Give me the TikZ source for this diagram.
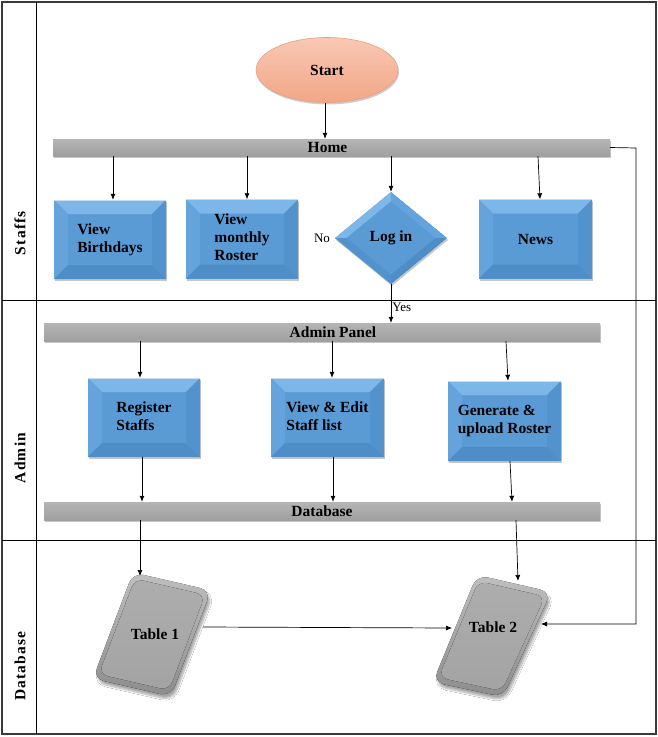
\documentclass[tikz,border=0pt]{standalone}
\usepackage{fontspec}
\setmainfont{Liberation Serif}
\usetikzlibrary{shapes.geometric,shadows,shadows.blur,calc,arrows.meta}
\definecolor{boxblue}{HTML}{5B9BD5}
\definecolor{bevtop}{HTML}{7DB6E8}
\definecolor{bevleft}{HTML}{64A3DB}
\definecolor{bevright}{HTML}{5393CD}
\definecolor{bevbot}{HTML}{4F8DC6}
\definecolor{framegray}{HTML}{3A3A3A}
\begin{document}
\begin{tikzpicture}[x=1pt,y=-1pt,
  boxtext/.style={font=\bfseries\fontsize{15.5}{18}\selectfont},
  bevelbox/.style={rectangle, minimum width=112pt, minimum height=79pt, inner sep=0pt,
    fill=boxblue, boxtext,
    drop shadow={shadow xshift=1pt,shadow yshift=-2pt,fill=black,opacity=0.22},
    path picture={
      \coordinate (pnw) at (path picture bounding box.north west);
      \coordinate (pse) at (path picture bounding box.south east);
      \coordinate (pne) at (pnw -| pse);
      \coordinate (psw) at (pse -| pnw);
      \fill[bevtop] (pnw) -- (pne) -- ($(pne)+(-14pt,-14pt)$) -- ($(pnw)+(14pt,-14pt)$) -- cycle;
      \fill[bevleft] (pnw) -- ($(pnw)+(14pt,-14pt)$) -- ($(psw)+(14pt,14pt)$) -- (psw) -- cycle;
      \fill[bevright] (pne) -- ($(pne)+(-14pt,-14pt)$) -- ($(pse)+(-14pt,14pt)$) -- (pse) -- cycle;
      \fill[bevbot] (psw) -- ($(psw)+(14pt,14pt)$) -- ($(pse)+(-14pt,14pt)$) -- (pse) -- cycle;
      \draw[white!65!boxblue, line width=1.2pt] (pnw) -- (pne);
    }},
  bar/.style={rectangle, inner sep=0pt, top color=gray!58, bottom color=gray!75,
    drop shadow={shadow xshift=1pt,shadow yshift=-2pt,fill=black,opacity=0.22},
    font=\bfseries\fontsize{15.5}{18}\selectfont},
  arr/.style={-{Latex[length=6pt,width=5pt]}, line width=0.7pt, black},
  line/.style={line width=0.7pt, black},
  lanelabel/.style={rotate=90, font=\bfseries\fontsize{15.5}{18}\selectfont\addfontfeatures{LetterSpace=8}},
  small/.style={font=\fontsize{13}{15}\selectfont}
]
\useasboundingbox (0,0) rectangle (658,737);
\fill[white] (0,0) rectangle (658,737);

% lanes
\draw[framegray, line width=1.2pt] (2,2) rectangle (656,734);
\draw[line] (36,2) -- (36,734);
\draw[line] (2,300) -- (656,300);
\draw[line] (2,540) -- (656,540);
\node[lanelabel] (lstaff) at (20,233) {Staffs};
\node[lanelabel] (ladmin) at (20,458) {Admin};
\node[lanelabel] (ldb) at (20,666) {Database};

% start
\node[ellipse, minimum width=142pt, minimum height=65pt, inner sep=0pt,
  top color={rgb,255:red,249;green,200;blue,180}, bottom color={rgb,255:red,242;green,166;blue,135},
  draw={rgb,255:red,232;green,160;blue,130}, line width=0.6pt,
  drop shadow={shadow xshift=1pt,shadow yshift=-2pt,fill=black,opacity=0.2},
  boxtext] (start) at (327,70) {Start};

% bars
\node[bar, minimum width=557pt, minimum height=17pt] (home) at (331.5,147.5) {\hspace*{-8pt}Home};
\node[bar, minimum width=556pt, minimum height=18pt] (admin) at (322,332) {\hspace*{22pt}Admin Panel};
\node[bar, minimum width=556pt, minimum height=18pt] (db) at (322,511) {Database};

% staff boxes
\node[bevelbox] (bday) at (110,239.5) {\begin{tabular}{@{}l@{}}View\\Birthdays\end{tabular}};
\node[bevelbox] (roster) at (242,239) {\begin{tabular}{@{}l@{}}View\\monthly\\Roster\end{tabular}};
\node[diamond, minimum width=112pt, minimum height=92pt, inner sep=0pt, boxtext,
  fill=boxblue,
  drop shadow={shadow xshift=1pt,shadow yshift=-2pt,fill=black,opacity=0.22},
  path picture={
    \coordinate (dc) at (path picture bounding box.center);
    \coordinate (dn) at (path picture bounding box.north);
    \coordinate (ds) at (path picture bounding box.south);
    \coordinate (dw) at (path picture bounding box.west);
    \coordinate (de) at (path picture bounding box.east);
    \fill[bevtop] (dw) -- (dn) -- ($(dc)!0.8!(dn)$) -- ($(dc)!0.8!(dw)$) -- cycle;
    \fill[bevleft] (dn) -- (de) -- ($(dc)!0.8!(de)$) -- ($(dc)!0.8!(dn)$) -- cycle;
    \fill[bevright] (dw) -- (ds) -- ($(dc)!0.8!(ds)$) -- ($(dc)!0.8!(dw)$) -- cycle;
    \fill[bevbot] (ds) -- (de) -- ($(dc)!0.8!(de)$) -- ($(dc)!0.8!(ds)$) -- cycle;
  }] (login) at (391,238) {Log in};
\node[bevelbox, minimum width=113pt] (news) at (535.5,239) {News};
\node[small] (no) at (322,238) {No};

% admin boxes
\node[bevelbox] (reg) at (144,417.5) {\begin{tabular}{@{}l@{}}Register\\Staffs\end{tabular}};
\node[bevelbox, minimum width=113pt] (edit) at (327.5,417.5) {\begin{tabular}{@{}l@{}}View \& Edit\\Staff list\end{tabular}};
\node[bevelbox, minimum width=113pt, minimum height=80pt] (gen) at (504.5,421) {\begin{tabular}{@{}l@{}}Generate \&\\upload Roster\end{tabular}};

% tables
\begin{scope}[shift={(152,634.5)}]
  \fill[top color=gray!50, bottom color=gray!90, rounded corners=11pt,
    blur shadow={shadow xshift=2pt,shadow yshift=-4pt,shadow blur steps=10,shadow opacity=35}]
    (-19,-62) -- (59,-44) -- (19,62) -- (-59,44) -- cycle;
  \fill[top color=gray!64, bottom color=gray!72, rounded corners=9pt, scale=0.9]
    (-19,-62) -- (59,-44) -- (19,62) -- (-59,44) -- cycle;
\end{scope}
\begin{scope}[shift={(491,636.5)}]
  \fill[top color=gray!50, bottom color=gray!90, rounded corners=11pt,
    blur shadow={shadow xshift=2pt,shadow yshift=-4pt,shadow blur steps=10,shadow opacity=35}]
    (-14,-61.5) -- (60,-44.5) -- (12,60.5) -- (-58,45.5) -- cycle;
  \fill[top color=gray!64, bottom color=gray!72, rounded corners=9pt, scale=0.9]
    (-14,-61.5) -- (60,-44.5) -- (12,60.5) -- (-58,45.5) -- cycle;
\end{scope}
\node[boxtext] (t1) at (155,634) {Table 1};
\node[boxtext] (t2) at (493,627) {Table 2};
\coordinate (t1top) at (140,576);
\coordinate (t1right) at (203,627);
\coordinate (t2top) at (518,581);
\coordinate (t2left) at (452,628);
\coordinate (t2right) at (541,624);
\coordinate (hr1) at (636,148);
\coordinate (hr2) at (636,624);

% connectors
\draw[arr] (start.south -| 325,0) -- (home.north -| 325,0);
\draw[arr] (home.south -| 113,0) -- (bday.north -| 113,0);
\draw[arr] (home.south -| 247,0) -- (roster.north -| 247,0);
\draw[arr] (home.south -| login.north) -- (login.north);
\draw[arr] (home.south -| 538,0) -- (news.north -| 540,0);
\draw[arr] (login.south) -- (admin.north -| login.south) node[pos=0.6, right, small, inner sep=1pt] (yes) {Yes};
\draw[arr] (admin.south -| 140,0) -- (reg.north -| 140,0);
\draw[arr] (admin.south -| 332,0) -- (edit.north -| 332,0);
\draw[arr] (admin.south -| 506,0) -- (gen.north -| 508,0);
\draw[arr] (reg.south -| 142,0) -- (db.north -| 142,0);
\draw[arr] (edit.south -| 333,0) -- (db.north -| 333,0);
\draw[arr] (gen.south -| 510,0) -- (db.north -| 512,0);
\draw[arr] (db.south -| 140,0) -- (t1top);
\draw[arr] (db.south -| 516,0) -- (t2top);
\draw[arr] (t1right) -- (t2left);
\draw[arr] (home.east) -- (hr1) -- (hr2) -- (t2right);
\end{tikzpicture}
\end{document}
